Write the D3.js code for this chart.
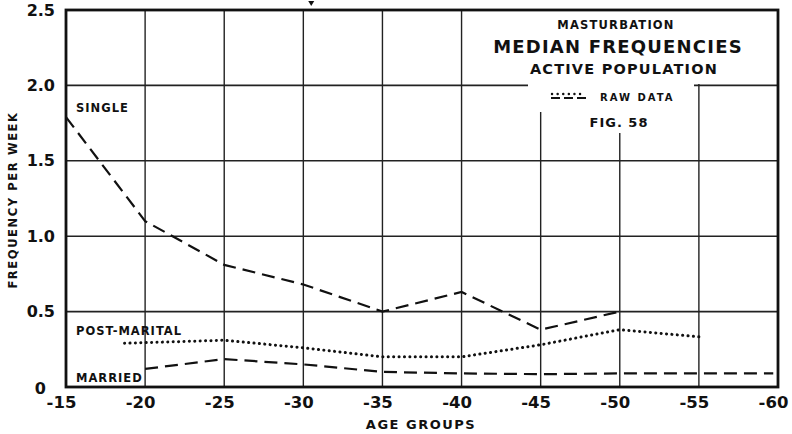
<!DOCTYPE html>
<html><head><meta charset="utf-8">
<script src="https://cdn.jsdelivr.net/npm/d3@7/dist/d3.min.js"></script>
<style>
html,body{margin:0;padding:0;background:#fff;}
svg text{font-family:"DejaVu Sans","Liberation Sans",sans-serif;font-weight:bold;fill:#111;}
</style></head>
<body>
<svg id="c" width="792" height="434"></svg>
<script>
// ---- data ----
const xTicks = [15,20,25,30,35,40,45,50,55,60];
const xTickLabels = ["-15","-20","-25","-30","-35","-40","-45","-50","-55","-60"];
const yTicks = [0,0.5,1.0,1.5,2.0,2.5];
const yTickLabels = ["0","0.5","1.0","1.5","2.0","2.5"];

const singleX = [15,20,25,30,35,40,45,50];
const singleY = [1.79,1.10,0.81,0.68,0.50,0.63,0.38,0.50];

const postMaritalX = [18.7,25,30,35,40,45,50,55.3];
const postMaritalY = [0.29,0.31,0.26,0.20,0.20,0.28,0.38,0.33];

const marriedX = [20,25,30,35,40,45,50,55,59.7];
const marriedY = [0.12,0.185,0.15,0.10,0.09,0.085,0.09,0.09,0.09];

const titleLines = ["MASTURBATION","MEDIAN FREQUENCIES","ACTIVE POPULATION"];
const legendLabel = "RAW DATA";
const figLabel = "FIG. 58";

// ---- layout ----
const svg = d3.select("#c");
const L = 66, R = 778, T = 10, B = 387;
const x = d3.scaleLinear().domain([15,60]).range([L,R]);
const y = d3.scaleLinear().domain([0,2.5]).range([B,T]);

// grid
const g = svg.append("g");
g.selectAll("line.v").data(xTicks.slice(1,-1)).join("line")
  .attr("x1",d=>x(d)).attr("x2",d=>x(d)).attr("y1",T).attr("y2",B)
  .attr("stroke","#222").attr("stroke-width",1.4);
g.selectAll("line.h").data(yTicks.slice(1,-1)).join("line")
  .attr("x1",L).attr("x2",R).attr("y1",d=>y(d)).attr("y2",d=>y(d))
  .attr("stroke","#222").attr("stroke-width",1.6);

// white box behind title
[[464,11,313,73],[528,84,166,28],[545,84,149,49]].forEach(r=>{
  svg.append("rect").attr("x",r[0]).attr("y",r[1]).attr("width",r[2]).attr("height",r[3]).attr("fill","#fff");
});

// frame
svg.append("rect").attr("x",L).attr("y",T).attr("width",R-L).attr("height",B-T)
  .attr("fill","none").attr("stroke","#111").attr("stroke-width",2.8);
// small mark on top
svg.append("path").attr("d",`M${x(30.5)-3},1 L${x(30.5)+3},1 L${x(30.5)},6 Z`).attr("fill","#111");

// axes (labels only)
const xAxis = d3.axisBottom(x).tickValues(xTicks).tickFormat((d,i)=>xTickLabels[i]).tickSize(0).tickPadding(9);
const xa = svg.append("g").attr("transform",`translate(0,${B})`).call(xAxis);
xa.select(".domain").remove();
xa.selectAll("text").style("font-size","16.5px").attr("dx","-5").attr("fill","#111");

const yAxis = d3.axisLeft(y).tickValues(yTicks).tickFormat((d,i)=>yTickLabels[i]).tickSize(0).tickPadding(11);
const ya = svg.append("g").attr("transform",`translate(${L},0)`).call(yAxis);
ya.select(".domain").remove();
ya.selectAll("text").style("font-size","16px").attr("fill","#111");
ya.selectAll("text").filter(d=>d===0).attr("dy","0.4em").attr("dx","-9");

svg.append("text").attr("x",421).attr("y",429).attr("text-anchor","middle")
  .style("font-size","13px").style("letter-spacing","1.5px").text("AGE GROUPS");
svg.append("text").attr("transform","translate(17,200) rotate(-90)").attr("text-anchor","middle")
  .style("font-size","11.5px").style("letter-spacing","1.6px").text("FREQUENCY PER WEEK");

// series
const line = d3.line().x(d=>x(d[0])).y(d=>y(d[1]));
const zip = (a,b)=>a.map((v,i)=>[v,b[i]]);
svg.append("path").datum(zip(singleX,singleY)).attr("d",line)
  .attr("fill","none").attr("stroke","#111").attr("stroke-width",2.2).attr("stroke-dasharray","13,7");
svg.append("path").datum(zip(marriedX,marriedY)).attr("d",line)
  .attr("fill","none").attr("stroke","#111").attr("stroke-width",2.2).attr("stroke-dasharray","13,7");
svg.append("path").datum(zip(postMaritalX,postMaritalY)).attr("d",line)
  .attr("fill","none").attr("stroke","#111").attr("stroke-width",3).attr("stroke-linecap","round").attr("stroke-dasharray","0.1,5.3");

// series labels
svg.append("text").attr("x",76).attr("y",112).style("font-size","11.5px").style("letter-spacing","1px").text("SINGLE");
svg.append("text").attr("x",76).attr("y",335).style("font-size","11.5px").style("letter-spacing","1px").text("POST-MARITAL");
svg.append("text").attr("x",76).attr("y",382).style("font-size","11.5px").style("letter-spacing","1px").text("MARRIED");

// title
svg.append("text").attr("x",616).attr("y",29).attr("text-anchor","middle").style("font-size","11.5px").style("letter-spacing","1.2px").text(titleLines[0]);
svg.append("text").attr("x",618).attr("y",53).attr("text-anchor","middle").style("font-size","18px").style("letter-spacing","1.2px").text(titleLines[1]);
svg.append("text").attr("x",624).attr("y",74).attr("text-anchor","middle").style("font-size","14.5px").style("letter-spacing","1.2px").text(titleLines[2]);

// legend
svg.append("line").attr("x1",552).attr("x2",585).attr("y1",94).attr("y2",94)
  .attr("stroke","#111").attr("stroke-width",2.4).attr("stroke-linecap","round").attr("stroke-dasharray","0.1,5.5");
svg.append("line").attr("x1",551).attr("x2",586).attr("y1",98).attr("y2",98)
  .attr("stroke","#111").attr("stroke-width",2).attr("stroke-dasharray","9,4");
svg.append("text").attr("x",600).attr("y",101).style("font-size","10px").style("letter-spacing","2px").text(legendLabel);
svg.append("text").attr("x",619).attr("y",127).attr("text-anchor","middle").style("font-size","13px").style("letter-spacing","1px").text(figLabel);
</script>
</body></html>
